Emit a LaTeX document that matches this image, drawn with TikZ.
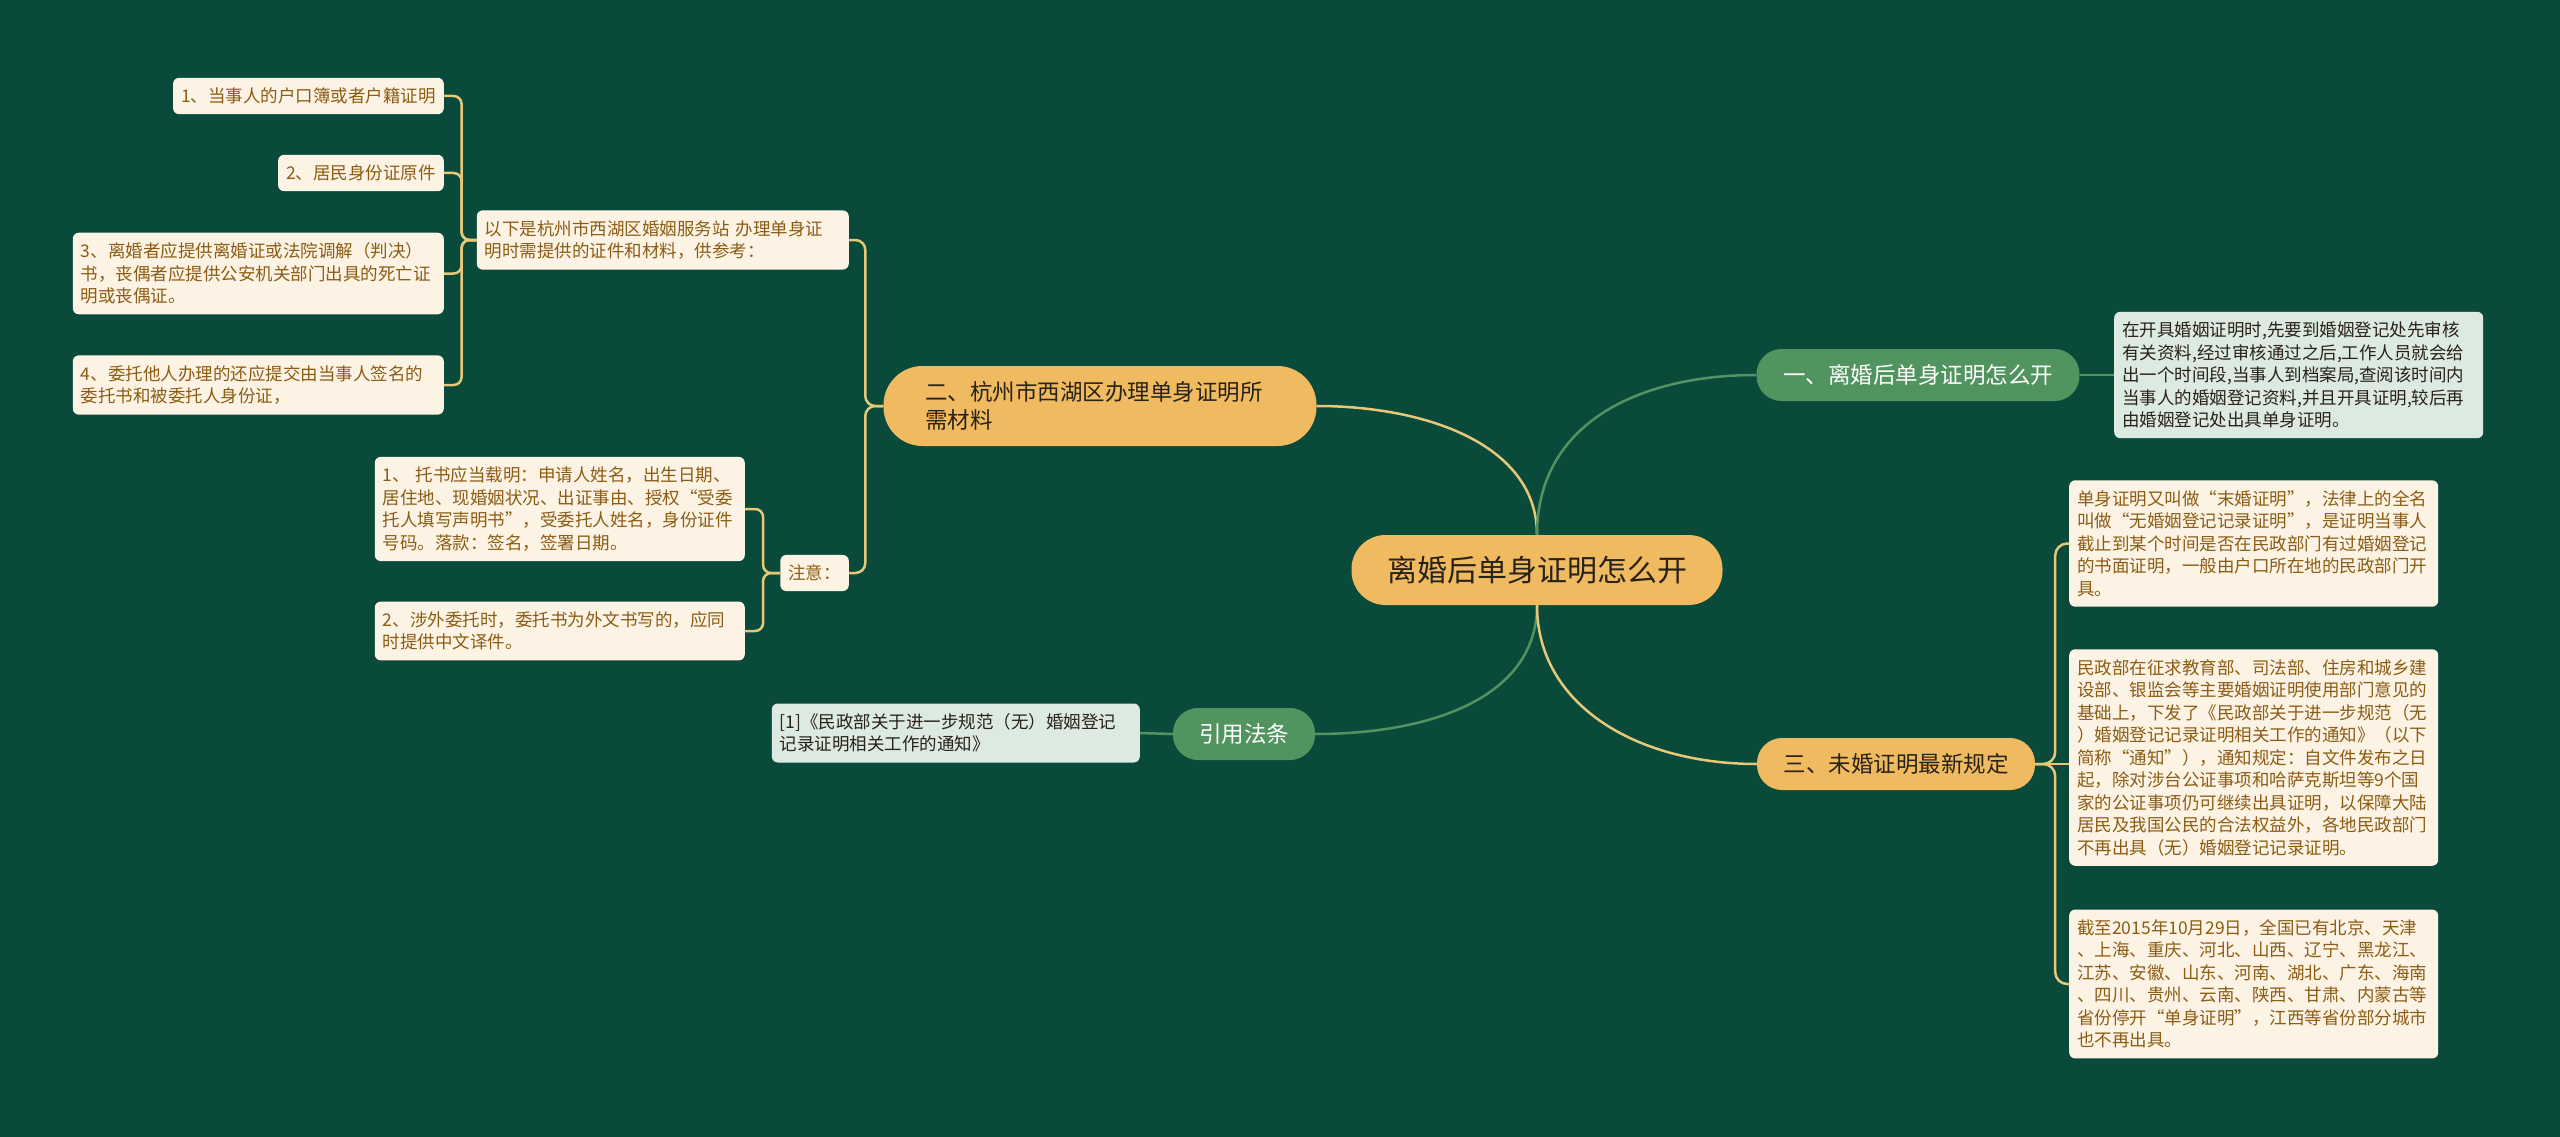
\documentclass[tikz,border=0pt]{standalone}
\usepackage{fontspec}
\setmainfont{Noto Sans CJK SC}
\definecolor{bg}{RGB}{9,74,58}
\definecolor{gold}{RGB}{240,186,96}
\definecolor{leaf}{RGB}{82,148,96}
\definecolor{cream}{RGB}{252,243,228}
\definecolor{mint}{RGB}{221,234,225}
\definecolor{brown}{RGB}{140,92,20}
\definecolor{ink}{RGB}{40,34,24}
\definecolor{goldline}{RGB}{230,200,120}
\begin{document}
\begin{tikzpicture}[x=1pt,y=-1pt,
  pill/.style={rounded corners=25pt,minimum height=52pt,inner sep=0pt,font=\fontsize{22.5}{28}\selectfont},
  goldpill/.style={pill,fill=gold,text=ink},
  greenpill/.style={pill,fill=leaf,text=white},
  note/.style={rounded corners=6pt,inner xsep=8pt,inner ysep=10pt,align=left,font=\fontsize{17.5}{22.5}\selectfont},
  creamnote/.style={note,fill=cream,text=brown},
  mintnote/.style={note,fill=mint,text=ink},
  goldlink/.style={goldline,line width=2.5pt},
  greenlink/.style={leaf,line width=2.5pt}]
\useasboundingbox (0,0) rectangle (2560,1137);
\fill[bg] (0,0) rectangle (2560,1137);
\node[goldpill,minimum width=371pt,minimum height=70pt,rounded corners=34pt,font=\fontsize{30}{36}\selectfont] (root) at (1537,570) {离婚后单身证明怎么开};
\node[greenpill,minimum width=323pt] (one) at (1918,375) {一、离婚后单身证明怎么开};
\node[goldpill,minimum width=278pt] (three) at (1896,764) {三、未婚证明最新规定};
\node[greenpill,minimum width=142pt] (cite) at (1244,734) {引用法条};
\node[goldpill,minimum width=433pt,minimum height=80pt,rounded corners=39pt,text width=350pt,align=left] (two) at (1100,406) {二、杭州市西湖区办理单身证明所\\需材料};
\node[mintnote,text width=353pt,anchor=west] (onetext) at (2114,375) {在开具婚姻证明时,先要到婚姻登记处先审核\\有关资料,经过审核通过之后,工作人员就会给\\出一个时间段,当事人到档案局,查阅该时间内\\当事人的婚姻登记资料,并且开具证明,较后再\\由婚姻登记处出具单身证明。};
\node[creamnote,text width=353pt,anchor=west] (threea) at (2069,543.5) {单身证明又叫做“末婚证明”，法律上的全名\\叫做“无婚姻登记记录证明”，是证明当事人\\截止到某个时间是否在民政部门有过婚姻登记\\的书面证明，一般由户口所在地的民政部门开\\具。};
\node[creamnote,text width=353pt,anchor=west] (threeb) at (2069,757.5) {民政部在征求教育部、司法部、住房和城乡建\\设部、银监会等主要婚姻证明使用部门意见的\\基础上，下发了《民政部关于进一步规范（无\\）婚姻登记记录证明相关工作的通知》（以下\\简称“通知”），通知规定：自文件发布之日\\起，除对涉台公证事项和哈萨克斯坦等9个国\\家的公证事项仍可继续出具证明，以保障大陆\\居民及我国公民的合法权益外，各地民政部门\\不再出具（无）婚姻登记记录证明。};
\node[creamnote,text width=353pt,anchor=west] (threec) at (2069,984) {截至2015年10月29日，全国已有北京、天津\\、上海、重庆、河北、山西、辽宁、黑龙江、\\江苏、安徽、山东、河南、湖北、广东、海南\\、四川、贵州、云南、陕西、甘肃、内蒙古等\\省份停开“单身证明”，江西等省份部分城市\\也不再出具。};
\node[mintnote,text width=352pt,anchor=east] (citetext) at (1140,733) {[1]《民政部关于进一步规范（无）婚姻登记\\记录证明相关工作的通知》};
\node[creamnote,text width=356pt,anchor=east] (twoa) at (849,240) {以下是杭州市西湖区婚姻服务站 办理单身证\\明时需提供的证件和材料，供参考：};
\node[creamnote,anchor=east] (twob) at (849,573) {注意：};
\node[creamnote,anchor=east] (m1) at (444,96) {1、当事人的户口簿或者户籍证明};
\node[creamnote,anchor=east] (m2) at (444,173) {2、居民身份证原件};
\node[creamnote,text width=355pt,anchor=east] (m3) at (444,273.5) {3、离婚者应提供离婚证或法院调解（判决）\\书，丧偶者应提供公安机关部门出具的死亡证\\明或丧偶证。};
\node[creamnote,text width=355pt,anchor=east] (m4) at (444,385) {4、委托他人办理的还应提交由当事人签名的\\委托书和被委托人身份证，};
\node[creamnote,text width=354pt,anchor=east] (n1) at (745,509) {1、 托书应当载明：申请人姓名，出生日期、\\居住地、现婚姻状况、出证事由、授权“受委\\托人填写声明书”，受委托人姓名，身份证件\\号码。落款：签名，签署日期。};
\node[creamnote,text width=354pt,anchor=east] (n2) at (745,631) {2、涉外委托时，委托书为外文书写的，应同\\时提供中文译件。};
\draw[goldlink] (root.north) .. controls +(0,-90) and +(110,0) .. (two.east);
\draw[greenlink] (root.north) .. controls +(0,-110) and +(-120,0) .. (one.west);
\draw[greenlink] (root.south) .. controls +(0,90) and +(120,0) .. (cite.east);
\draw[goldlink] (root.south) .. controls +(0,100) and +(-120,0) .. (three.west);
\draw[greenlink] (one.east) -- (onetext.west);
\draw[greenlink] (cite.west) -- (citetext.east);
\draw[goldlink] (three.east) -- (three.east -| threeb.west);
\foreach \t in {threea,threec} \draw[goldlink,rounded corners=12pt] (three.east) -- ++(20,0) |- (\t.west);
\foreach \t in {twoa,twob} \draw[goldlink,rounded corners=10pt] (two.west) -- ++(-18,0) |- (\t.east);
\foreach \m in {m1,m2,m3,m4} \draw[goldlink,rounded corners=8pt] (twoa.west) -- ++(-15,0) |- (\m.east);
\foreach \m in {n1,n2} \draw[goldlink,rounded corners=8pt] (twob.west) -- ++(-17,0) |- (\m.east);
\end{tikzpicture}
\end{document}
